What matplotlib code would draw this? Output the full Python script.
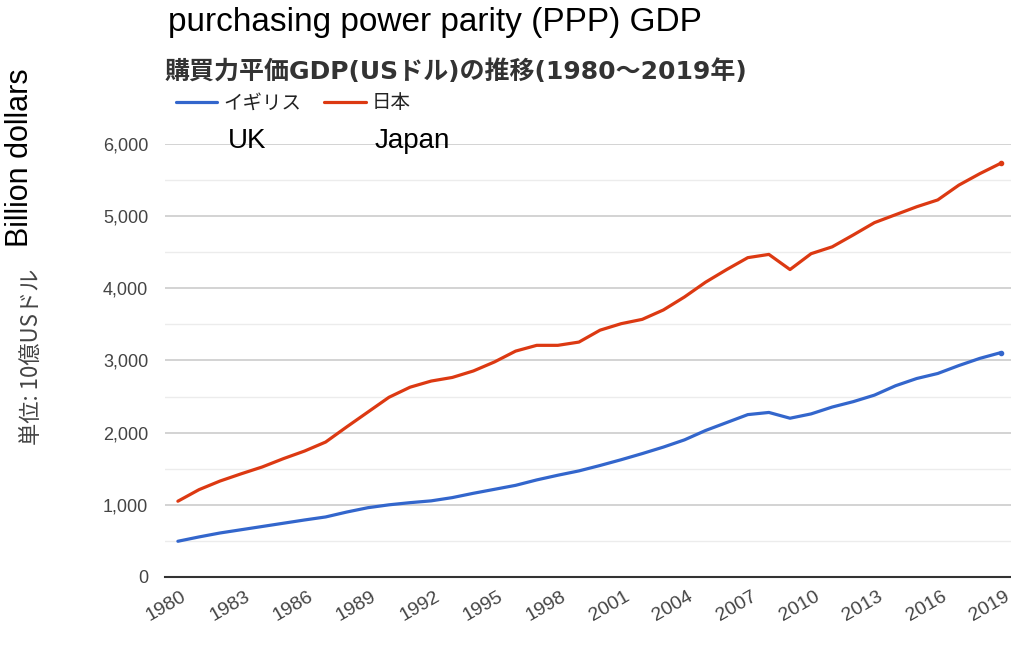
import numpy as np
import matplotlib
matplotlib.use("Agg")
import matplotlib.pyplot as plt
import matplotlib.transforms as mtransforms
from matplotlib.ticker import MultipleLocator, FuncFormatter

plt.rcParams['font.family'] = ['Noto Sans CJK JP', 'DejaVu Sans']

# data (billion US dollars, PPP)
years = list(range(1980, 2020))
uk = [495, 555, 610, 655, 700, 745, 790, 832, 900, 960,
      1000, 1030, 1055, 1100, 1160, 1215, 1270, 1345, 1410, 1470,
      1545, 1625, 1710, 1800, 1900, 2030, 2140, 2250, 2280, 2200,
      2260, 2355, 2430, 2520, 2650, 2750, 2820, 2930, 3030, 3110]
japan = [1050, 1210, 1330, 1430, 1525, 1640, 1745, 1870, 2080, 2285,
         2490, 2630, 2715, 2765, 2855, 2980, 3130, 3210, 3210, 3255,
         3420, 3510, 3570, 3700, 3880, 4085, 4260, 4425, 4470, 4260,
         4480, 4575, 4740, 4910, 5020, 5130, 5225, 5430, 5590, 5735]
series_names = ['イギリス', '日本']
series_colors = ['#3366cc', '#dc3912']
xtick_years = list(range(1980, 2020, 3))

LAT = ['Liberation Sans', 'DejaVu Sans']

fig = plt.figure(figsize=(10.11, 6.53), dpi=100)
ax = fig.add_axes([0.163, 0.1164, 0.837, 0.6631])

for vals, name, col in zip([uk, japan], series_names, series_colors):
    ax.plot(years, vals, color=col, lw=2.3, label=name, solid_capstyle='round')
    ax.plot(years[-1], vals[-1], 'o', color=col, ms=3)

ax.set_xlim(1979.38, 2019.47)
ax.set_ylim(0, 6000)
ax.yaxis.set_major_locator(MultipleLocator(1000))
ax.yaxis.set_minor_locator(MultipleLocator(500))
ax.yaxis.set_major_formatter(FuncFormatter(lambda v, p: f"{int(v):,}"))
ax.grid(which='major', axis='y', color='#cccccc', lw=1.2)
ax.grid(which='minor', axis='y', color='#ececec', lw=1.0)
ax.set_axisbelow(True)
for s in ['top', 'right', 'left']:
    ax.spines[s].set_visible(False)
ax.spines['bottom'].set_color('#333333')
ax.spines['bottom'].set_linewidth(1.5)
ax.tick_params(axis='both', which='both', length=0, colors='#444444')
ax.tick_params(axis='y', pad=12, labelsize=13)
for lab in ax.get_yticklabels():
    lab.set_family(LAT)

ax.set_xticks(xtick_years)
ax.set_xticklabels([str(y) for y in xtick_years], rotation=30, ha='right',
                   va='top', rotation_mode='anchor', fontsize=14,
                   family=LAT, color='#444444')
ax.tick_params(axis='x', pad=8)
shift = mtransforms.ScaledTranslation(3 / 100, 0, fig.dpi_scale_trans)
for lab in ax.get_xticklabels():
    lab.set_transform(lab.get_transform() + shift)

# titles and legend
fig.text(168 / 1011, 1 - 23 / 653, 'purchasing power parity (PPP) GDP',
         fontsize=24, family=LAT, ha='left', va='center', color='black')
fig.text(165 / 1011, 1 - 72 / 653, '購買力平価GDP(USドル)の推移(1980～2019年)',
         fontsize=18, fontweight='bold', family=['DejaVu Sans', 'Noto Sans CJK JP'],
         ha='left', va='center', color='#333333')
ax.legend(ncol=2, loc='center left', bbox_to_anchor=(158 / 1011, 1 - 103 / 653),
          bbox_transform=fig.transFigure, frameon=False, fontsize=14,
          handlelength=2.15, handletextpad=0.3, columnspacing=1.2,
          labelcolor='#222222')

fig.text(228 / 1011, 1 - 141 / 653, 'UK', fontsize=20,
         family=LAT, ha='left', va='center')
fig.text(375 / 1011, 1 - 141 / 653, 'Japan', fontsize=20,
         family=LAT, ha='left', va='center')

fig.text(20 / 1011, 1 - 158 / 653, 'Billion dollars', fontsize=22, rotation=90,
         family=LAT, ha='center', va='center')
fig.text(32 / 1011, 1 - 357 / 653, '単位: 10億USドル', fontsize=16, rotation=90,
         ha='center', va='center', color='#444444')

fig.savefig('out.png', dpi=100)
